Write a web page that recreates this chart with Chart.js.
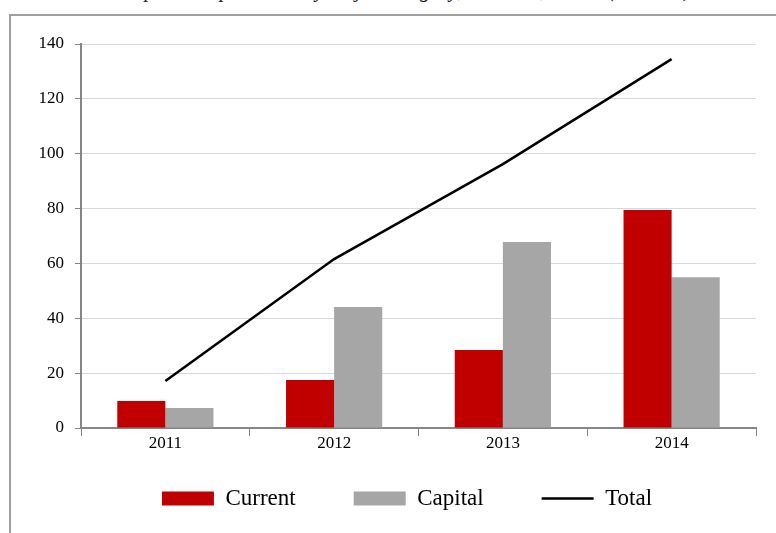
<!DOCTYPE html>
<html>
<head>
<meta charset="utf-8">
<script src="https://cdn.jsdelivr.net/npm/chart.js@4/dist/chart.umd.min.js"></script>
<style>
  html, body { margin: 0; padding: 0; background: #fff; overflow: hidden; }
  #wrap { position: relative; width: 776px; height: 533px; }
  #title { position: absolute; left: 0; width: 776px; top: -21px; text-align: center;
           font: italic 21px "Liberation Serif", serif; line-height: 22px; color: #222; white-space: nowrap; }
  #frame { position: absolute; left: 9px; top: 14px; width: 800px; height: 560px;
           border-top: 2px solid #a0a0a0; border-left: 2px solid #a0a0a0; }
  canvas { position: absolute; left: 0; top: 0; }
</style>
</head>
<body>
<div id="wrap">
  <div id="title">Development expenditure by major category, 2011–14, Rs. bn (nominal)</div>
  <div id="frame"></div>
  <canvas id="chart" width="776" height="533"></canvas>
</div>
<script>
// data
const years = ['2011', '2012', '2013', '2014'];
const current = [9.8, 17.5, 28.4, 79.5];
const capital = [7.3, 44.1, 67.8, 55.0];
const total = [17.1, 61.6, 96.2, 134.5];

const RED = '#C00000';
const GREY = '#A6A6A6';
const AXIS = '#868686';
const GRID = '#D9D9D9';
const SERIF = '"Liberation Serif", "Times New Roman", serif';
const legendOrder = [1, 2, 0]; // Current, Capital, Total

new Chart(document.getElementById('chart'), {
    type: 'bar',
    data: {
        labels: years,
        datasets: [
            {
                label: 'Total',
                type: 'line',
                data: total,
                borderColor: '#000',
                backgroundColor: '#000',
                borderWidth: 2.5,
                pointRadius: 0,
                tension: 0,
                pointStyle: 'line',
                order: 0
            },
            {
                label: 'Current',
                data: current,
                backgroundColor: RED,
                borderWidth: 0,
                pointStyle: 'rect',
                order: 1
            },
            {
                label: 'Capital',
                data: capital,
                backgroundColor: GREY,
                borderWidth: 0,
                pointStyle: 'rect',
                order: 1
            }
        ]
    },
    options: {
        responsive: false,
        animation: false,
        layout: { padding: { left: 34, right: 20, top: 44, bottom: 13 } },
        datasets: {
            bar: { categoryPercentage: 0.57, barPercentage: 1.0 }
        },
        scales: {
            x: {
                grid: {
                    offset: true,
                    drawOnChartArea: true,
                    color: (c) => c.index === years.length ? GRID : 'rgba(0,0,0,0)',
                    tickColor: AXIS,
                    tickLength: 8,
                    lineWidth: 1
                },
                border: { color: AXIS, width: 2 },
                ticks: { color: '#000', font: { family: SERIF, size: 17 }, padding: -3 },
                afterFit: (s) => { s.height = 24; }
            },
            y: {
                min: 0,
                max: 140,
                ticks: { stepSize: 20, color: '#000', font: { family: SERIF, size: 17 }, padding: 11 },
                grid: { color: GRID, tickColor: AXIS, tickLength: 6, lineWidth: 1 },
                border: { color: AXIS, width: 2 },
                afterFit: (s) => { s.width = 47; }
            }
        },
        plugins: {
            tooltip: { enabled: false },
            legend: {
                position: 'bottom',
                fullSize: false,
                labels: {
                    usePointStyle: true,
                    pointStyleWidth: 52,
                    boxHeight: 14,
                    padding: 35,
                    color: '#000',
                    font: { family: SERIF, size: 23 },
                    sort: (a, b) => legendOrder.indexOf(a.datasetIndex) - legendOrder.indexOf(b.datasetIndex),
                    // trailing spaces widen the gap between legend entries
                    filter: (item) => {
                        item.text = item.text + '    ';
                        return true;
                    }
                }
            }
        }
    }
});
</script>
</body>
</html>
